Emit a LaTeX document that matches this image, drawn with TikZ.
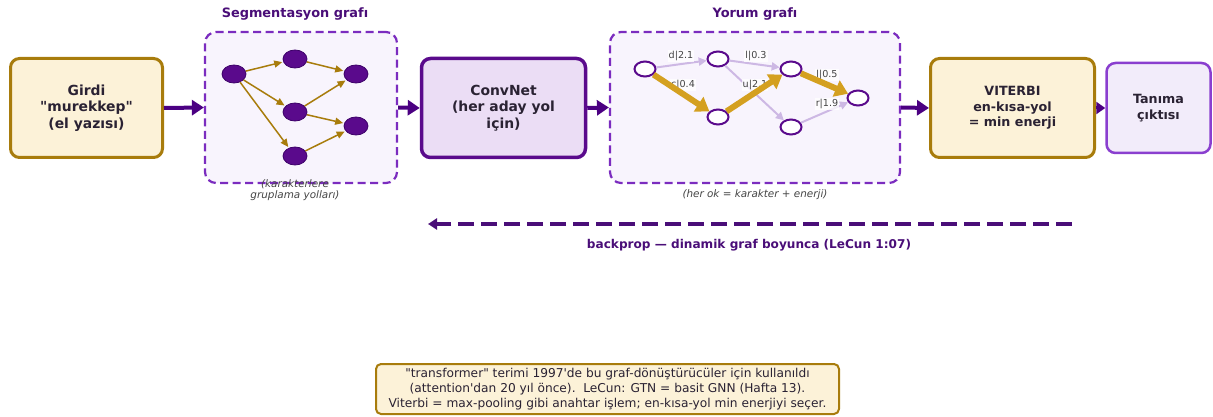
\documentclass[tikz,border=0pt]{standalone}
\usepackage{fontspec}
\setmainfont{DejaVu Sans}[Ligatures=TeXOff]
\usetikzlibrary{arrows.meta,shapes.geometric}

\definecolor{indigo}{HTML}{4B0082}
\definecolor{deeppurple}{HTML}{5A0A8C}
\definecolor{titlepurple}{HTML}{4A0E78}
\definecolor{dashpurple}{HTML}{7B2CBF}
\definecolor{outpurple}{HTML}{8A3FCF}
\definecolor{gold}{HTML}{A87C0C}
\definecolor{heavygold}{HTML}{D4A020}
\definecolor{lightpath}{HTML}{CDB8E4}
\definecolor{cream}{HTML}{FCF2D8}
\definecolor{lavender}{HTML}{EBDDF5}
\definecolor{paleviolet}{HTML}{F8F4FD}
\definecolor{outfill}{HTML}{F2ECFA}
\definecolor{txt}{HTML}{2A2233}
\definecolor{captxt}{HTML}{444444}

\tikzset{
  x=1pt, y=-1pt,
  bigfont/.style={font=\fontsize{13.9}{16.5}\selectfont\bfseries},
  midfont/.style={font=\fontsize{12.7}{15.5}\selectfont\bfseries},
  stagebox/.style={rectangle, rounded corners=9pt, align=center, text=txt, inner sep=0pt},
  creambox/.style={stagebox, draw=gold, fill=cream, line width=3pt},
  groupbox/.style={rectangle, rounded corners=11pt, draw=dashpurple, fill=paleviolet,
    line width=2.2pt, dash pattern=on 8pt off 4.5pt, inner sep=0pt},
  grouptitle/.style={font=\fontsize{12.9}{15}\selectfont\bfseries, text=titlepurple},
  caption/.style={font=\fontsize{10.4}{11.5}\selectfont\itshape, text=captxt, align=center},
  flow/.style={draw=indigo, line width=4pt, -{Triangle[length=12pt,width=15pt]}},
  segnode/.style={ellipse, draw=indigo!80!black, fill=deeppurple, line width=0.8pt,
    minimum width=24pt, minimum height=18pt, inner sep=0pt},
  segedge/.style={draw=gold, line width=1.5pt, -{Triangle[length=8pt,width=7pt]}, shorten >=1pt},
  yornode/.style={ellipse, draw=deeppurple, fill=white, line width=2pt,
    minimum width=21pt, minimum height=15pt, inner sep=0pt},
  lightedge/.style={draw=lightpath, line width=2pt, -{Triangle[length=8pt,width=8pt]}},
  heavyedge/.style={draw=heavygold, line width=6pt, -{Triangle[length=13pt,width=17pt]}},
  edgelabel/.style={font=\fontsize{9.6}{11}\selectfont, text=captxt, fill=white, fill opacity=0.75,
    text opacity=1, inner sep=1pt},
}

\begin{document}
\begin{tikzpicture}
\useasboundingbox (0,0) rectangle (1213,417);

% pipeline stages
\node[creambox, bigfont, minimum width=152pt, minimum height=99pt] (girdi) at (86.5,108)
  {Girdi\\"murekkep"\\(el yazısı)};
\node[groupbox, minimum width=192pt, minimum height=151pt] (seg) at (301,107.5) {};
\node[grouptitle] (segtitle) at (295,14) {Segmentasyon grafı};
\node[stagebox, bigfont, draw=deeppurple, fill=lavender, line width=3.5pt,
  minimum width=164pt, minimum height=99pt] (conv) at (503.5,108) {ConvNet\\(her aday yol\\için)};
\node[groupbox, minimum width=290pt, minimum height=151pt] (yor) at (755,107.5) {};
\node[grouptitle] (yortitle) at (755,14) {Yorum grafı};
\node[creambox, midfont, minimum width=164pt, minimum height=99pt] (vit) at (1012.5,108)
  {VITERBI\\en-kısa-yol\\= min enerji};
\node[stagebox, midfont, draw=outpurple, fill=outfill, line width=2.5pt,
  minimum width=104pt, minimum height=90pt] (out) at (1158.5,108) {Tanıma\\çıktısı};

% flow arrows between stages
\draw[flow] (girdi.east) -- (seg.west);
\draw[flow] (seg.east) -- (conv.west);
\draw[flow] (conv.east) -- (yor.west);
\draw[flow] (yor.east) -- (vit.west);
\draw[draw=indigo, line width=3pt, -{Triangle[length=9pt,width=12pt]}] (vit.east) -- (out.west);

% segmentation graph
\node[segnode] (s1) at (234,74) {};
\node[segnode] (s2) at (295,59) {};
\node[segnode] (s3) at (356,74) {};
\node[segnode] (s4) at (295,112) {};
\node[segnode] (s5) at (356,126) {};
\node[segnode] (s6) at (295,156) {};
\draw[segedge] (s1) -- (s2);
\draw[segedge] (s1) -- (s4);
\draw[segedge] (s1) -- (s6);
\draw[segedge] (s2) -- (s3);
\draw[segedge] (s4) -- (s3);
\draw[segedge] (s4) -- (s5);
\draw[segedge] (s6) -- (s5);
\node[caption] (segcap) at (295,190) {(karakterlere\\gruplama yolları)};

% interpretation graph
\node[yornode] (y1) at (645,69) {};
\node[yornode] (y2) at (718,59) {};
\node[yornode] (y3) at (791,69) {};
\node[yornode] (y4) at (718,117) {};
\node[yornode] (y5) at (791,127) {};
\node[yornode] (y6) at (858,98) {};
\draw[lightedge] (y1) -- (y2);
\draw[lightedge] (y2) -- (y3);
\draw[lightedge] (y2) -- (y5);
\draw[lightedge] (y5) -- (y6);
\node[edgelabel] (l12) at (681,56) {d|2.1};
\node[edgelabel] (l23) at (756,56) {l|0.3};
\node[edgelabel] (l14) at (683,85) {c|0.4};
\node[edgelabel] (l43) at (755,85) {u|2.1};
\node[edgelabel] (l36) at (827,75) {l|0.5};
\node[edgelabel] (l56) at (827,104) {r|1.9};
\draw[heavyedge] (y1) -- (y4);
\draw[heavyedge] (y4) -- (y3);
\draw[heavyedge] (y3) -- (y6);
\node[caption] (yorcap) at (755,195) {(her ok = karakter + enerji)};

% backprop arrow
\coordinate (bpstart) at (1072,224);
\coordinate (bpend) at (428,224);
\draw[draw=titlepurple, line width=3.2pt, dash pattern=on 16pt off 7pt,
  -{Triangle[length=9pt,width=11pt]}] (bpstart) -- (bpend);
\node[font=\fontsize{12.1}{14}\selectfont\bfseries, text=titlepurple] (bplabel) at (749,245)
  {backprop — dinamik graf boyunca (LeCun 1:07)};

% note
\node[rectangle, rounded corners=5pt, draw=gold, fill=cream, line width=2pt, align=center,
  text=txt, font=\fontsize{12.2}{14.8}\selectfont, minimum width=463pt, minimum height=50pt,
  inner sep=2pt] (note) at (607.5,389)
  {"transformer" terimi 1997'de bu graf-dönüştürücüler için kullanıldı\\
   (attention'dan 20 yıl önce).\ \ LeCun: GTN = basit GNN (Hafta 13).\\
   Viterbi = max-pooling gibi anahtar işlem; en-kısa-yol min enerjiyi seçer.};
\end{tikzpicture}
\end{document}
